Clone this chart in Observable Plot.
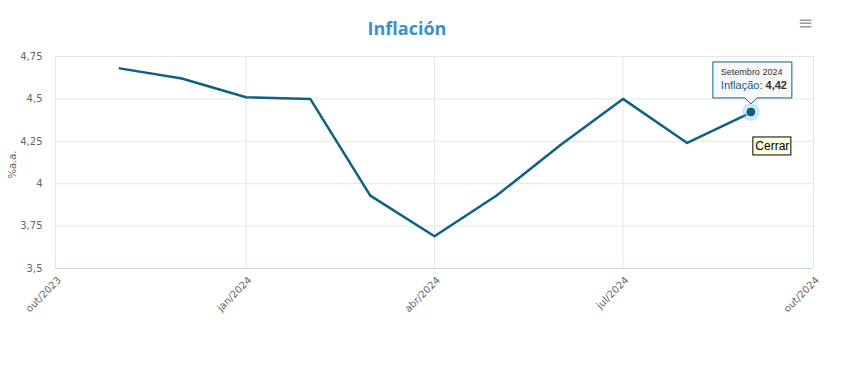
<!DOCTYPE html>
<html><head><meta charset="utf-8">
<script src="https://cdn.jsdelivr.net/npm/d3@7"></script>
<script src="https://cdn.jsdelivr.net/npm/@observablehq/plot@0.6"></script>
<style>
body{margin:0;background:#fff;}
#wrap{position:relative;width:841px;height:371px;overflow:hidden;}
#title{position:absolute;left:0;width:814px;top:16px;text-align:center;font:bold 18px "Open Sans",sans-serif;color:#3a8fd1;z-index:2;}
#menu{position:absolute;left:798px;top:12px;font:18px "DejaVu Sans",sans-serif;color:#999;z-index:2;}
#chart{position:absolute;left:0;top:0;}
</style></head><body>
<div id="wrap"><div id="title">Inflación</div><div id="menu">≡</div><div id="chart"></div></div>
<script>
const months = ["2023-11","2023-12","2024-01","2024-02","2024-03","2024-04","2024-05","2024-06","2024-07","2024-08","2024-09"];
const values = [4.68, 4.62, 4.51, 4.50, 3.93, 3.69, 3.93, 4.23, 4.50, 4.24, 4.42];
const xTickDates = ["2023-10","2024-01","2024-04","2024-07","2024-10"];
const xTickLabels = ["out/2023","jan/2024","abr/2024","jul/2024","out/2024"];
const yTicks = [3.5, 3.75, 4, 4.25, 4.5, 4.75];
const yLabel = "%a.a.";
const seriesName = "Inflação";
const tooltipTitle = "Setembro 2024";
const highlightIndex = 10;

const parse = d3.utcParse("%Y-%m");
const data = months.map((m, i) => ({date: parse(m), value: values[i]}));
const tickDates = xTickDates.map(parse);
const labelOf = new Map(tickDates.map((d, i) => [+d, xTickLabels[i]]));
const fmt = v => String(v).replace(".", ",");
const lineColor = "#0b6282";

const chart = Plot.plot({
  width: 841, height: 371,
  marginLeft: 55, marginRight: 28, marginTop: 56, marginBottom: 103,
  style: {fontFamily: "DejaVu Sans, sans-serif", fontSize: "10px", color: "#666", background: "transparent"},
  x: {type: "utc", domain: [tickDates[0], tickDates[tickDates.length - 1]]},
  y: {domain: [3.5, 4.75]},
  marks: [
    Plot.gridY(yTicks, {stroke: "#e6e6e6", strokeOpacity: 1}),
    Plot.gridX(tickDates, {stroke: "#e6e6e6", strokeOpacity: 1}),
    Plot.ruleY([3.5], {stroke: "#ccd6eb"}),
    Plot.axisY(yTicks, {tickFormat: fmt, tickSize: 0, tickPadding: 13, label: null, fill: "#666"}),
    Plot.axisX(tickDates, {tickFormat: d => labelOf.get(+d), tickSize: 0, tickRotate: -45, tickPadding: 6, dx: 4, dy: 4, label: null, fill: "#666", fontSize: 10}),
    Plot.text([yLabel], {frameAnchor: "left", textAnchor: "middle", dx: -43, dy: 2, rotate: -90, fill: "#666", fontSize: 10}),
    Plot.line(data, {x: "date", y: "value", stroke: lineColor, strokeWidth: 2.5})
  ]
});
document.getElementById("chart").appendChild(chart);

// highlighted point + tooltip, positioned via the plot's scales
const p = data[highlightIndex];
const px = chart.scale("x").apply(p.date);
const py = chart.scale("y").apply(p.value);
const svg = d3.select(chart);
const g = svg.append("g").attr("text-anchor", "start").attr("font-family", "Liberation Sans, Arial, sans-serif");
g.append("circle").attr("cx", px).attr("cy", py).attr("r", 9).attr("fill", "#7cb5ec").attr("fill-opacity", 0.35);
g.append("circle").attr("cx", px).attr("cy", py).attr("r", 5).attr("fill", lineColor).attr("stroke", "#fff").attr("stroke-width", 1);
const bx = px - 38, by = py - 50, bw = 79, bh = 36;
g.append("path")
  .attr("d", `M${bx},${by} H${bx + bw} V${by + bh} H${px + 6} L${px},${by + bh + 6} L${px - 6},${by + bh} H${bx} Z`)
  .attr("fill", "rgba(247,247,247,0.9)").attr("stroke", lineColor).attr("stroke-width", 1);
g.append("text").attr("x", bx + 8).attr("y", by + 13).attr("font-size", 9).attr("fill", "#333").text(tooltipTitle);
const t2 = g.append("text").attr("x", bx + 8).attr("y", by + 27).attr("font-size", 11);
t2.append("tspan").attr("fill", lineColor).text(seriesName);
t2.append("tspan").attr("fill", "#333").text(": ");
t2.append("tspan").attr("fill", "#333").attr("font-weight", "bold").text(fmt(p.value));
g.append("rect").attr("x", px + 2).attr("y", py + 25).attr("width", 38).attr("height", 18)
  .attr("fill", "#ffffe1").attr("stroke", "#000").attr("stroke-width", 1);
g.append("text").attr("x", px + 4.5).attr("y", py + 38.5).attr("font-size", 12).attr("fill", "#000").text("Cerrar");
</script>
</body></html>
